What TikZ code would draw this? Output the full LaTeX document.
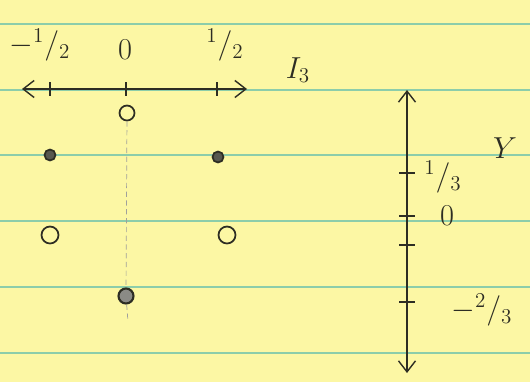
\documentclass[tikz,border=0pt]{standalone}
\usepackage{tikz}
\usetikzlibrary{arrows.meta, positioning}
\definecolor{padyellow}{RGB}{252,247,164}
\definecolor{ruleline}{RGB}{140,205,170}
\definecolor{pencil}{RGB}{45,45,35}
\newcommand{\slfrac}[2]{$^{#1}/_{#2}$}

\begin{document}
\begin{tikzpicture}[
    x=0.02cm, y=-0.02cm,
    >={Straight Barb[length=2.2mm, width=3.4mm]},
    axis/.style={pencil, line width=0.8pt},
    openpt/.style={circle, draw=pencil, line width=1pt, minimum size=0.34cm,
                   inner sep=0pt},
    fullpt/.style={circle, draw=pencil, fill=pencil!80, line width=1pt,
                   minimum size=0.22cm, inner sep=0pt},
    ringpt/.style={circle, draw=pencil, fill=pencil!55, line width=1.2pt,
                   minimum size=0.3cm, inner sep=0pt},
    lbl/.style={text=pencil, font=\LARGE}
  ]
  % paper
  \fill[padyellow] (0,0) rectangle (530,382);
  \useasboundingbox (0,0) rectangle (530,382);
  \foreach \y in {24,90,155,221,287,353}
    \draw[ruleline, line width=0.8pt] (0,\y) -- (530,\y);

  % I_3 axis
  \coordinate (hl) at (22,89);
  \coordinate (hr) at (247,89);
  \coordinate (tm) at (50,89);
  \coordinate (t0) at (126,89);
  \coordinate (tp) at (217,89);
  \draw[axis, <->] (hl) -- (hr);
  \foreach \t in {tm,t0,tp}
    \draw[axis] (\t) ++(0,-7) -- ++(0,14);
  \node[lbl] (lm) at (40,45) {$-$\slfrac{1}{2}};
  \node[lbl] (l0) at (125,50) {0};
  \node[lbl] (lp) at (225,45) {\slfrac{1}{2}};
  \node[lbl] (li) at (298,70) {$I_3$};

  % Y axis
  \coordinate (vt) at (407,90);
  \coordinate (vb) at (407,373);
  \coordinate (y1) at (407,173);
  \coordinate (y0) at (407,216);
  \coordinate (yx) at (407,245);
  \coordinate (y2) at (407,302);
  \draw[axis, <->] (vt) -- (vb);
  \foreach \t in {y1,y0,yx,y2}
    \draw[axis] (\t) ++(-8,0) -- ++(16,0);
  \node[lbl] (ly1) at (443,177) {\slfrac{1}{3}};
  \node[lbl] (ly0) at (447,216) {0};
  \node[lbl] (ly2) at (482,310) {$-$\slfrac{2}{3}};
  \node[lbl] (ly) at (505,148) {$Y$};

  % weight points
  \node[openpt, minimum size=0.3cm] (c0) at (127,113) {};
  \node[fullpt] (dl) at (50,155) {};
  \node[fullpt] (dr) at (218,157) {};
  \node[openpt] (cl) at (50,235) {};
  \node[openpt] (cr) at (227,235) {};
  \node[ringpt] (cb) at (126,296) {};
  \coordinate (dend) at (128,322);

  \draw[pencil!45, densely dashed, line width=0.4pt] (c0) -- (cb) -- (dend);
\end{tikzpicture}
\end{document}
